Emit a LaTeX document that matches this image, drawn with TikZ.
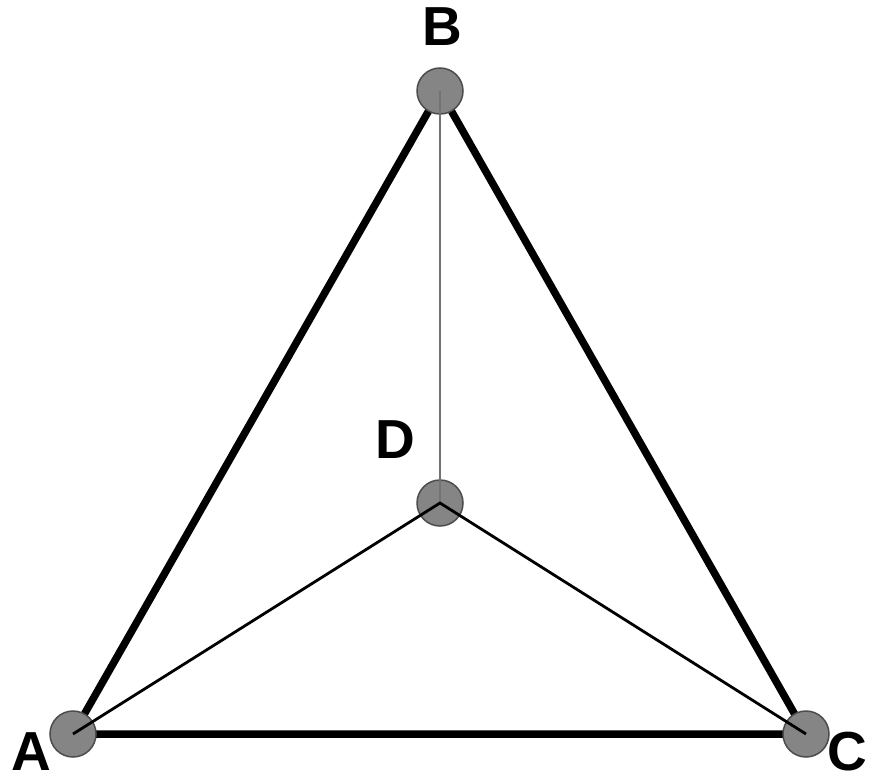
\documentclass[tikz,border=0pt]{standalone}
\usepackage{fontspec}
\setmainfont{Liberation Sans}
\begin{document}
\begin{tikzpicture}[x=1pt,y=-1pt,
  vert/.style={circle,fill=black!48,draw=black!70,line width=1.5pt,minimum size=46pt,inner sep=0pt},
  thickedge/.style={line width=7.5pt,black},
  thinedge/.style={line width=2.8pt,black},
  greyedge/.style={line width=2.8pt,black!55},
  lab/.style={font=\fontsize{55}{60}\selectfont\bfseries,inner sep=0pt,text height=39pt,text depth=0pt}]
\useasboundingbox (0,0) rectangle (869,783);
\fill[white] (0,0) rectangle (869,783);
\coordinate (a) at (73,734);
\coordinate (b) at (440,91);
\coordinate (c) at (806,734);
\coordinate (d) at (440,503);
\draw[thickedge] (a) -- (b) -- (c) -- cycle;
\node[vert] (A) at (a) {};
\node[vert] (B) at (b) {};
\node[vert] (C) at (c) {};
\node[vert] (D) at (d) {};
\draw[greyedge] (B.center) -- (D.center);
\draw[thinedge] (A.center) -- (D.center) -- (C.center);
\node[lab,anchor=south] (lA) at (31,771) {A};
\node[lab,anchor=south] (lB) at (442,46) {B};
\node[lab,anchor=south] (lC) at (847,771) {C};
\node[lab,anchor=south] (lD) at (395,459) {D};
\end{tikzpicture}
\end{document}
